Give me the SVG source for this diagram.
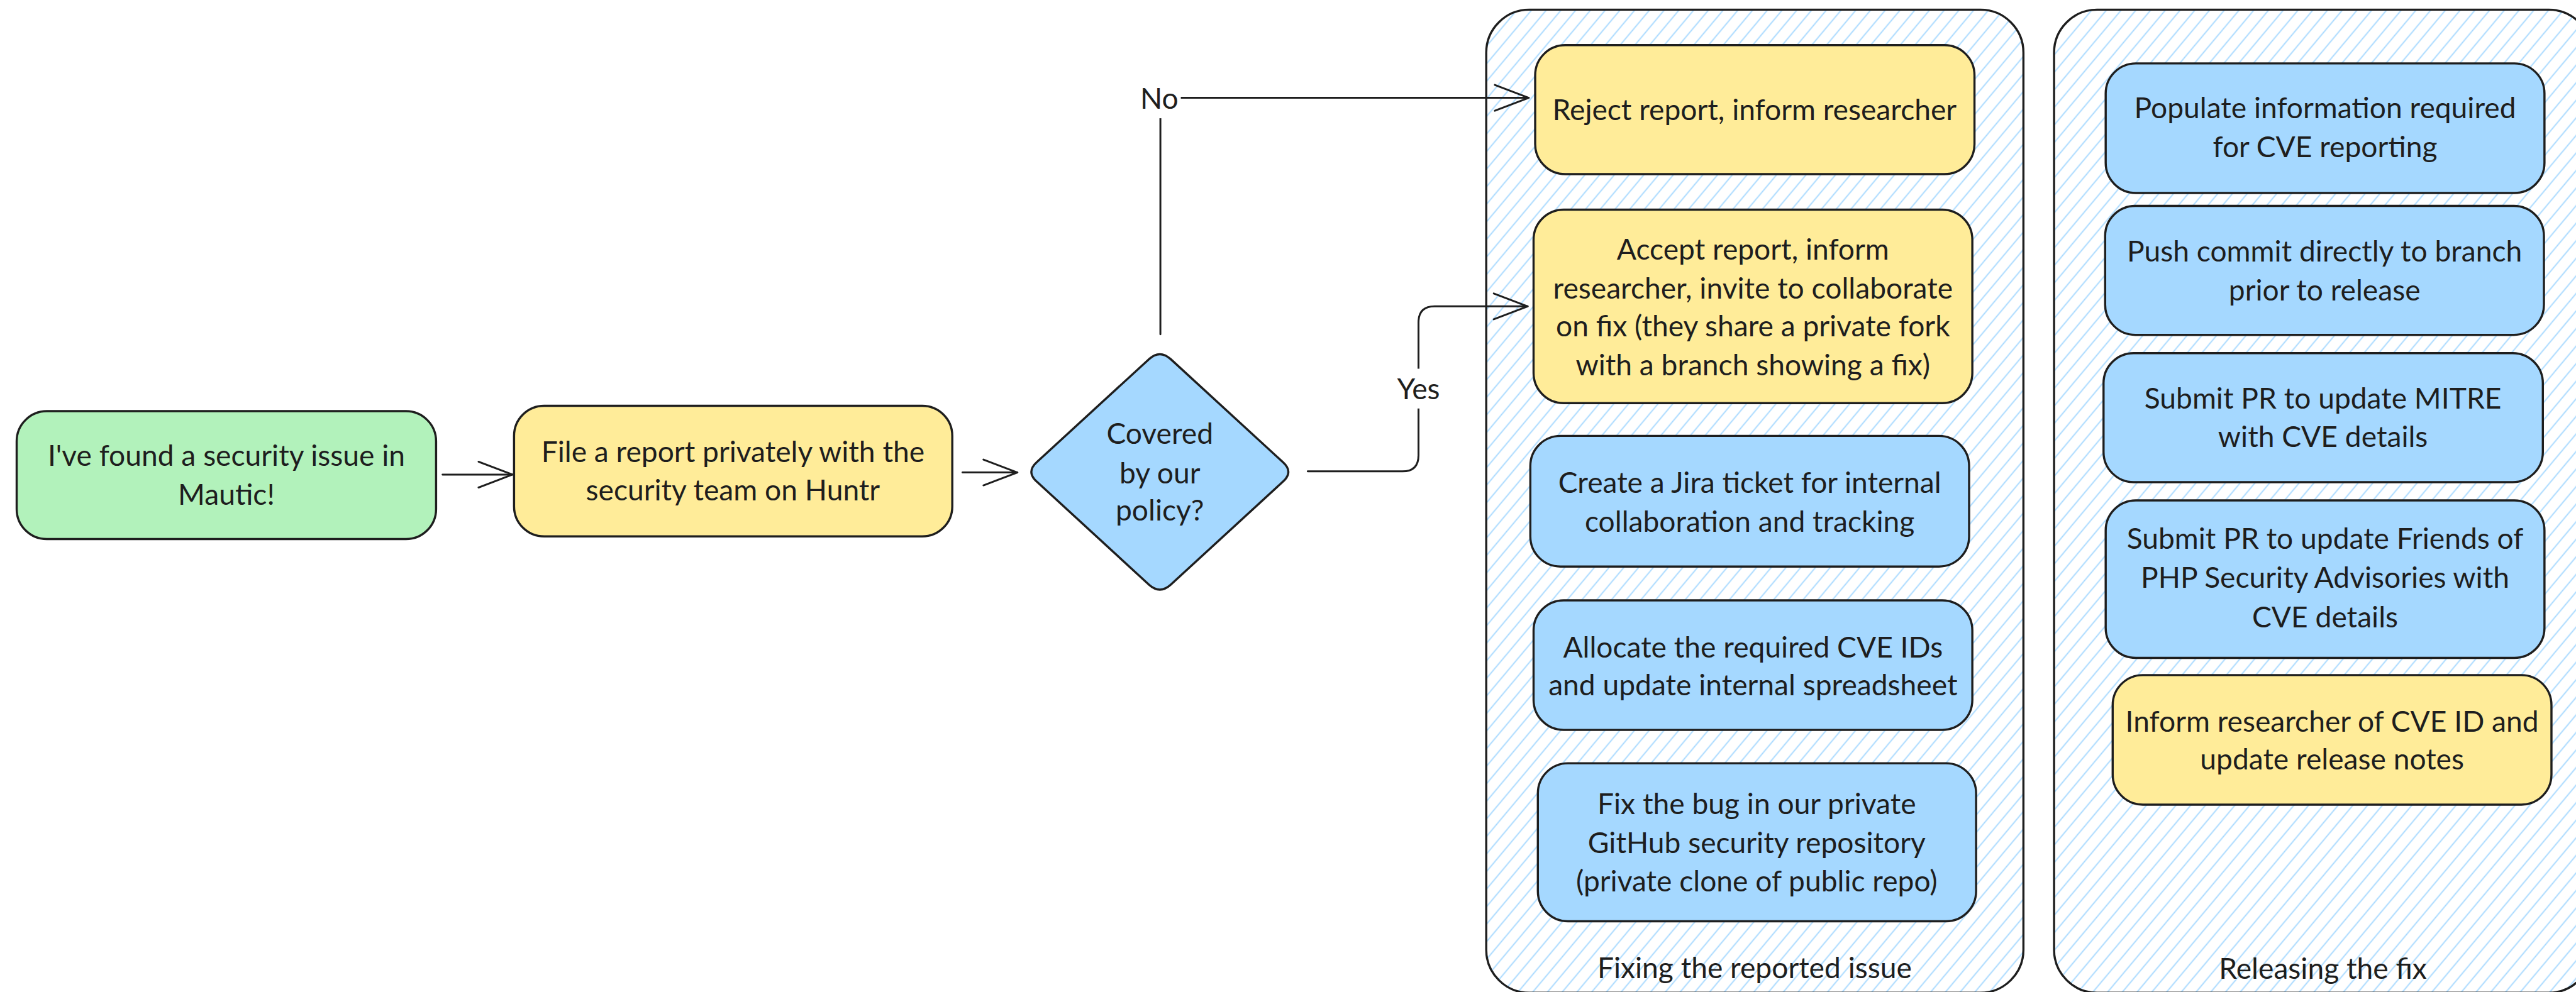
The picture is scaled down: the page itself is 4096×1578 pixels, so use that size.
<svg xmlns="http://www.w3.org/2000/svg" width="4096" height="1578" viewBox="0 0 4096 1578">
<defs>
<style>
.node{stroke:#1e1e1e;stroke-width:4}
.green{fill:#b2f2bb}.yellow{fill:#ffec99}.blue{fill:#a5d8ff}
.grp{fill:url(#hatch);stroke:#1e1e1e;stroke-width:4}
text{font-family:Lato,"Noto Sans","Liberation Sans",sans-serif;font-size:54px;fill:#1e1e1e;text-anchor:middle}
.conn{fill:none;stroke:#1e1e1e;stroke-width:3.5;stroke-linecap:round;stroke-linejoin:round}
</style>
<pattern id="hatch" patternUnits="userSpaceOnUse" width="21" height="21" patternTransform="rotate(40)">
<rect width="21" height="21" fill="#ffffff"/>
<line x1="10" y1="-1" x2="10" y2="22" stroke="#a5d8ff" stroke-width="2.2"/>
</pattern>
<marker id="arr" markerUnits="userSpaceOnUse" viewBox="-70 -30 80 60" markerWidth="80" markerHeight="60" refX="0" refY="0" orient="auto" overflow="visible">
<path d="M-63,-24 L0,0 L-63,24" fill="none" stroke="#1e1e1e" stroke-width="3.5" stroke-linecap="round" stroke-linejoin="round"/>
</marker>
</defs>
<rect width="4096" height="1578" fill="#ffffff"/>
<g transform="scale(0.855)">
<g id="group-fixing">
<rect class="grp" x="2764" y="18" width="999" height="1829" rx="80"/>
<text x="3263" y="1820">Fixing the reported issue</text>
</g>
<g id="group-releasing">
<rect class="grp" x="3820" y="18" width="1000" height="1829" rx="80"/>
<text x="4320" y="1821">Releasing the fix</text>
</g>
<g id="connectors">
<path class="conn" d="M823,883 L953,883" marker-end="url(#arr)"/>
<path class="conn" d="M1790,879 L1892,879" marker-end="url(#arr)"/>
<path class="conn" d="M2158,622 L2158,182 L2843,182" marker-end="url(#arr)"/>
<path class="conn" d="M2432,877 L2608,877 Q2638,877 2638,847 L2638,600 Q2638,570 2668,570 L2841,570" marker-end="url(#arr)"/>
<rect x="2114" y="148" width="82" height="72" fill="#ffffff"/>
<text x="2156" y="202">No</text>
<rect x="2592" y="686" width="92" height="74" fill="#ffffff"/>
<text x="2638" y="743">Yes</text>
</g>
<g id="n-found">
<rect class="node green" x="31" y="765" width="780" height="238" rx="56"/>
<text x="421" y="867">I've found a security issue in</text>
<text x="421" y="939">Mautic!</text>
</g>
<g id="n-file">
<rect class="node yellow" x="956" y="755" width="815" height="243" rx="56"/>
<text x="1363" y="860">File a report privately with the</text>
<text x="1363" y="931">security team on Huntr</text>
</g>
<g id="n-covered">
<path class="node blue" d="M2137,668 Q2157,650 2177,668 L2386,860 Q2406,878 2386,896 L2177,1088 Q2157,1106 2137,1088 L1928,896 Q1908,878 1928,860 Z"/>
<text x="2157" y="826">Covered</text>
<text x="2157" y="899">by our</text>
<text x="2157" y="969">policy?</text>
</g>
<g id="n-reject">
<rect class="node yellow" x="2855" y="84" width="817" height="240" rx="56"/>
<text x="3263" y="223">Reject report, inform researcher</text>
</g>
<g id="n-accept">
<rect class="node yellow" x="2852" y="390" width="816" height="360" rx="56"/>
<text x="3260" y="483">Accept report, inform</text>
<text x="3260" y="555">researcher, invite to collaborate</text>
<text x="3260" y="626">on fix (they share a private fork</text>
<text x="3260" y="698">with a branch showing a fix)</text>
</g>
<g id="n-jira">
<rect class="node blue" x="2846" y="811" width="816" height="243" rx="56"/>
<text x="3254" y="917">Create a Jira ticket for internal</text>
<text x="3254" y="989">collaboration and tracking</text>
</g>
<g id="n-allocate">
<rect class="node blue" x="2852" y="1117" width="816" height="241" rx="56"/>
<text x="3260" y="1223">Allocate the required CVE IDs</text>
<text x="3260" y="1294">and update internal spreadsheet</text>
</g>
<g id="n-fixbug">
<rect class="node blue" x="2860" y="1420" width="815" height="294" rx="56"/>
<text x="3267" y="1515">Fix the bug in our private</text>
<text x="3267" y="1587">GitHub security repository</text>
<text x="3267" y="1659">(private clone of public repo)</text>
</g>
<g id="n-populate">
<rect class="node blue" x="3916" y="118" width="816" height="241" rx="56"/>
<text x="4324" y="220">Populate information required</text>
<text x="4324" y="292">for CVE reporting</text>
</g>
<g id="n-push">
<rect class="node blue" x="3915" y="383" width="816" height="240" rx="56"/>
<text x="4323" y="487">Push commit directly to branch</text>
<text x="4323" y="559">prior to release</text>
</g>
<g id="n-mitre">
<rect class="node blue" x="3912" y="657" width="817" height="240" rx="56"/>
<text x="4320" y="760">Submit PR to update MITRE</text>
<text x="4320" y="831">with CVE details</text>
</g>
<g id="n-friends">
<rect class="node blue" x="3916" y="931" width="816" height="293" rx="56"/>
<text x="4324" y="1021">Submit PR to update Friends of</text>
<text x="4324" y="1094">PHP Security Advisories with</text>
<text x="4324" y="1167">CVE details</text>
</g>
<g id="n-inform">
<rect class="node yellow" x="3929" y="1256" width="816" height="241" rx="56"/>
<text x="4337" y="1361">Inform researcher of CVE ID and</text>
<text x="4337" y="1432">update release notes</text>
</g>
</g>
</svg>
